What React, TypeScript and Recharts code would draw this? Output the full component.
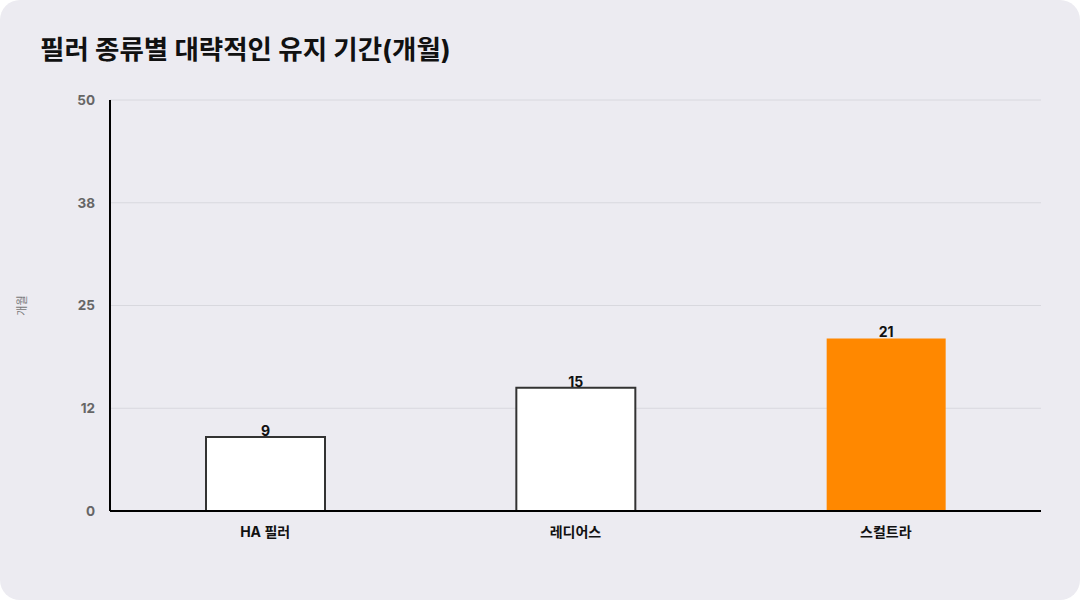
import React from "react";
import { BarChart, Bar, XAxis, YAxis, CartesianGrid, Cell, LabelList } from "recharts";

const categories = ["HA 필러", "레디어스", "스컬트라"];
const months = [9, 15, 21];
const highlighted = [false, false, true];
const yTicks = [0, 12.5, 25, 37.5, 50];
const yTickLabels = ["0", "12", "25", "38", "50"];

const data = categories.map((name, i) => ({ name, months: months[i] }));

const font = "Inter, 'Noto Sans CJK KR', 'Noto Sans', sans-serif";

export default function App() {
  return (
    <div
      style={{
        position: "fixed",
        left: 0,
        top: 0,
        width: 1080,
        height: 600,
        background: "#ffffff",
        fontFamily: font,
      }}
    >
      <div
        style={{
          position: "absolute",
          inset: 0,
          background: "#ECEBF1",
          borderRadius: 20,
        }}
      />
      <div
        style={{
          position: "absolute",
          left: 40,
          top: 28,
          fontSize: 26.5,
          fontWeight: 700,
          color: "#111",
        }}
      >
        필러 종류별 대략적인 유지 기간(개월)
      </div>
      <div style={{ position: "absolute", left: 0, top: 0 }}>
        <BarChart
          width={1080}
          height={600}
          data={data}
          margin={{ top: 100, right: 39, bottom: 59, left: 0 }}
        >
          <CartesianGrid vertical={false} stroke="#d8d8de" strokeWidth={1} />
          <XAxis
            dataKey="name"
            height={30}
            axisLine={{ stroke: "#000", strokeWidth: 2 }}
            tickLine={false}
            tickMargin={10}
            tick={{ fill: "#111", fontSize: 14, fontWeight: 700, fontFamily: font }}
          />
          <YAxis
            width={110}
            domain={[0, 50]}
            ticks={yTicks}
            interval={0}
            tickFormatter={(v: number) => yTickLabels[yTicks.indexOf(v)] ?? String(v)}
            axisLine={{ stroke: "#000", strokeWidth: 2 }}
            tickLine={false}
            tickMargin={9}
            tick={{ fill: "#666", fontSize: 13.5, fontWeight: 700, fontFamily: font }}
            label={{
              value: "개월",
              angle: -90,
              position: "insideLeft",
              offset: 22,
              style: { fill: "#777", fontSize: 11, fontFamily: font, textAnchor: "middle" },
            }}
          />
          <Bar dataKey="months" barSize={119} isAnimationActive={false}>
            {data.map((d, i) => (
              <Cell
                key={d.name}
                fill={highlighted[i] ? "#FF8800" : "#ffffff"}
                stroke={highlighted[i] ? "none" : "#333333"}
                strokeWidth={highlighted[i] ? 0 : 2}
              />
            ))}
            <LabelList
              dataKey="months"
              position="top"
              offset={1}
              style={{ fill: "#111", fontSize: 14, fontWeight: 700, fontFamily: font }}
            />
          </Bar>
        </BarChart>
      </div>
    </div>
  );
}
